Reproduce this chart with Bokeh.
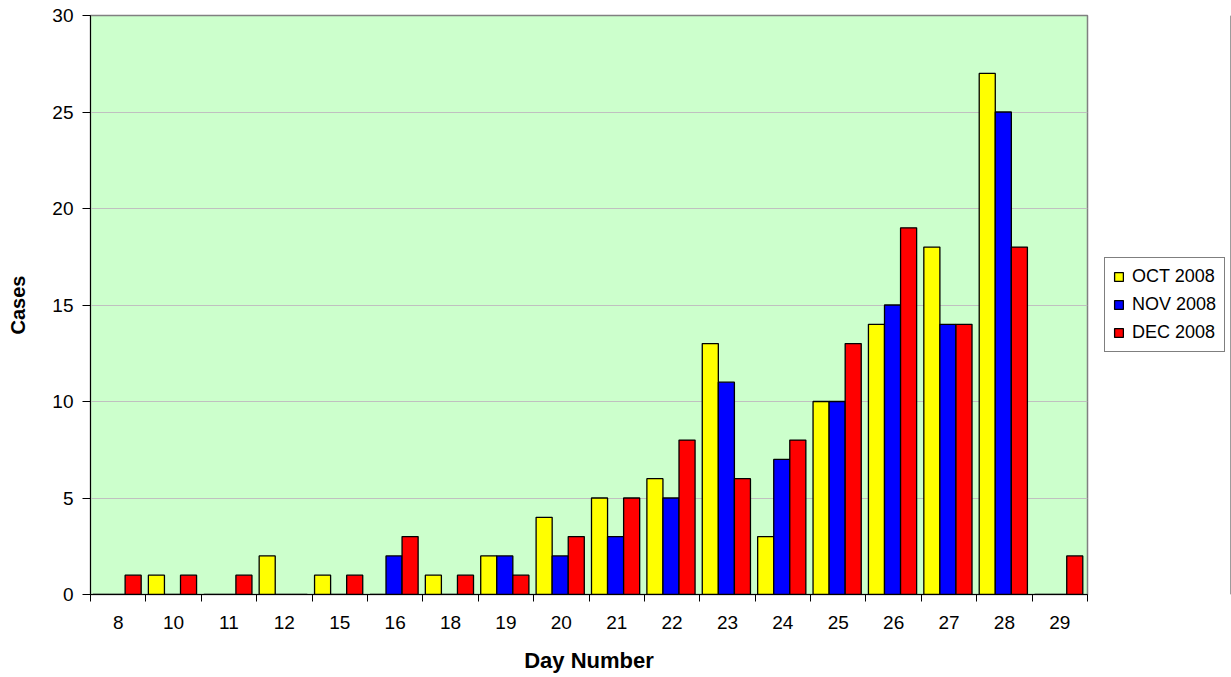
from bokeh.plotting import figure
from bokeh.models import (ColumnDataSource, Range1d, FixedTicker, Legend, LegendItem)
from bokeh.layouts import row
from bokeh.transform import dodge
from bokeh.embed import file_html
from bokeh.resources import INLINE

days = ["8", "10", "11", "12", "15", "16", "18", "19", "20", "21", "22", "23", "24", "25", "26", "27", "28", "29"]
oct_2008 = [0, 1, 0, 2, 1, 0, 1, 2, 4, 5, 6, 13, 3, 10, 14, 18, 27, 0]
nov_2008 = [0, 0, 0, 0, 0, 2, 0, 2, 2, 3, 5, 11, 7, 10, 15, 14, 25, 0]
dec_2008 = [1, 1, 1, 0, 1, 3, 1, 1, 3, 5, 8, 6, 8, 13, 19, 14, 18, 2]
series_names = ["OCT 2008", "NOV 2008", "DEC 2008"]
series_colors = ["#FFFF00", "#0000FF", "#FF0000"]
y_ticks = [0, 5, 10, 15, 20, 25, 30]

FONT = "Liberation Sans"

n = len(days)
idx = list(range(n))
src = ColumnDataSource(dict(idx=idx, day=days, oct=oct_2008, nov=nov_2008, dec=dec_2008))

H = 675
p = figure(x_range=Range1d(-0.5, n - 0.5), y_range=Range1d(0, 30),
           width=1095, height=H,
           output_backend="svg", toolbar_location=None,
           min_border_left=90, min_border_right=8,
           min_border_top=15, min_border_bottom=81,
           background_fill_color="#CCFFCC", border_fill_color="white",
           outline_line_color="#808080", outline_line_width=1.5)

bw = 0.29
fields = ["oct", "nov", "dec"]
offsets = [-0.31, -0.02, 0.27]
for field, color, off in zip(fields, series_colors, offsets):
    p.vbar(x=dodge("idx", off), top=field, width=bw, source=src,
           fill_color=color, line_color="black", line_width=1.3)

# grid
p.xgrid.visible = False
p.ygrid.grid_line_color = "#C0C0C0"
p.ygrid.grid_line_width = 1
p.ygrid.ticker = FixedTicker(ticks=y_ticks)

# y axis
ya = p.yaxis[0]
ya.ticker = FixedTicker(ticks=y_ticks)
ya.axis_line_color = "black"
ya.axis_line_width = 1
ya.major_tick_out = 8
ya.major_tick_in = 0
ya.major_tick_line_color = "black"
ya.minor_tick_line_color = None
ya.major_label_text_font = FONT
ya.major_label_text_font_size = "19px"
ya.major_label_text_color = "black"
ya.major_label_standoff = 9
ya.axis_label = "Cases"
ya.axis_label_text_font = FONT
ya.axis_label_text_font_size = "20px"
ya.axis_label_text_font_style = "bold"
ya.axis_label_text_color = "black"
ya.axis_label_standoff = 20

# x axis: labels at category centres, ticks at category boundaries
xa = p.xaxis[0]
xa.ticker = FixedTicker(ticks=idx, minor_ticks=[i - 0.5 for i in range(n + 1)])
xa.major_label_overrides = {i: d for i, d in zip(idx, days)}
xa.major_tick_line_color = None
xa.major_tick_out = 0
xa.major_tick_in = 0
xa.minor_tick_line_color = "black"
xa.minor_tick_out = 7
xa.minor_tick_in = 0
xa.axis_line_color = "black"
xa.axis_line_width = 1
xa.major_label_text_font = FONT
xa.major_label_text_font_size = "19px"
xa.major_label_text_color = "black"
xa.major_label_standoff = 14
xa.axis_label = "Day Number"
xa.axis_label_text_font = FONT
xa.axis_label_text_font_size = "22px"
xa.axis_label_text_font_style = "bold"
xa.axis_label_text_color = "black"
xa.axis_label_standoff = 16

# legend panel (separate small figure so the legend sits outside the plot area)
pl = figure(width=136, height=H, x_range=Range1d(0, 1), y_range=Range1d(0, 1),
            output_backend="svg", toolbar_location=None,
            x_axis_location=None, y_axis_location=None,
            min_border=0, outline_line_color=None,
            background_fill_color="white", border_fill_color="white")
pl.xgrid.visible = False
pl.ygrid.visible = False
leg_rends = []
for color in series_colors:
    # one swatch sample per series, placed outside the visible range of the legend panel
    leg_rends.append(pl.vbar(x=[5], top=[1], width=0.3, fill_color=color,
                             line_color="black", line_width=1.3))

legend = Legend(items=[LegendItem(label=nm, renderers=[r], index=0) for nm, r in zip(series_names, leg_rends)],
                location=(9, 242), orientation="vertical",
                label_text_font=FONT, label_text_font_size="18px", label_text_color="black",
                glyph_width=11, glyph_height=11, label_standoff=8,
                spacing=7, padding=8, margin=0,
                border_line_color="black", border_line_width=1,
                background_fill_color="white", background_fill_alpha=1)
pl.add_layout(legend)

layout = row(p, pl, spacing=0)
open("out.html", "w").write(file_html(layout, INLINE))
